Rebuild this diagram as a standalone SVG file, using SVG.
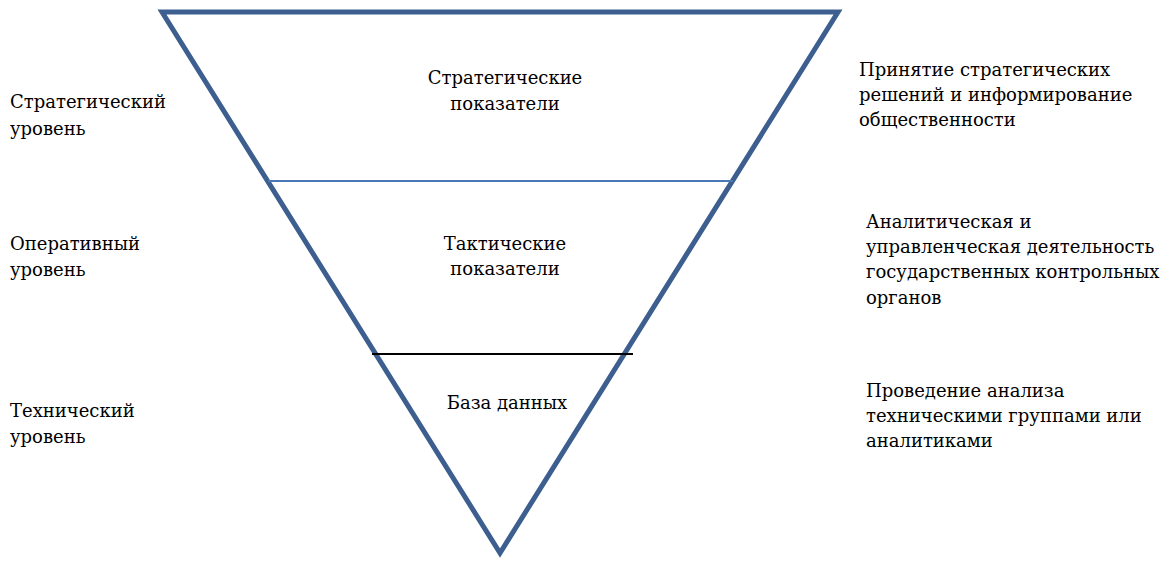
<svg xmlns="http://www.w3.org/2000/svg" width="1175" height="563" viewBox="0 0 1175 563">
<style>
text{font-family:"DejaVu Serif","Liberation Serif",serif;font-size:18px;fill:#000}
.c{text-anchor:middle}
</style>
<rect width="1175" height="563" fill="#fff"/>
<g id="pyramid">
<polygon points="162,12 838,12 500,553" fill="none" stroke="#3c5f8f" stroke-width="5" stroke-linejoin="miter"/>
</g>
<g id="connectors">
<line x1="268" y1="181" x2="733" y2="181" stroke="#4a78b4" stroke-width="2"/>
<line x1="372" y1="354" x2="633" y2="354" stroke="#000" stroke-width="2"/>
</g>
<g id="strategic">
<text class="c" x="505" y="84">Стратегические</text>
<text class="c" x="505" y="110">показатели</text>
</g>
<g id="tactical">
<text class="c" x="505" y="250">Тактические</text>
<text class="c" x="505" y="275">показатели</text>
</g>
<g id="database">
<text class="c" x="507" y="409">База данных</text>
</g>
<g id="left-labels">
<text x="10" y="108">Стратегический</text>
<text x="10" y="135">уровень</text>
<text x="10" y="250">Оперативный</text>
<text x="10" y="276">уровень</text>
<text x="10" y="417">Технический</text>
<text x="10" y="443">уровень</text>
</g>
<g id="right-labels">
<text x="859" y="76">Принятие стратегических</text>
<text x="859" y="101">решений и информирование</text>
<text x="859" y="126">общественности</text>
<text x="866" y="228">Аналитическая и</text>
<text x="866" y="253">управленческая деятельность</text>
<text x="866" y="278">государственных контрольных</text>
<text x="866" y="304">органов</text>
<text x="866" y="397">Проведение анализа</text>
<text x="866" y="422">техническими группами или</text>
<text x="866" y="447">аналитиками</text>
</g>
</svg>
